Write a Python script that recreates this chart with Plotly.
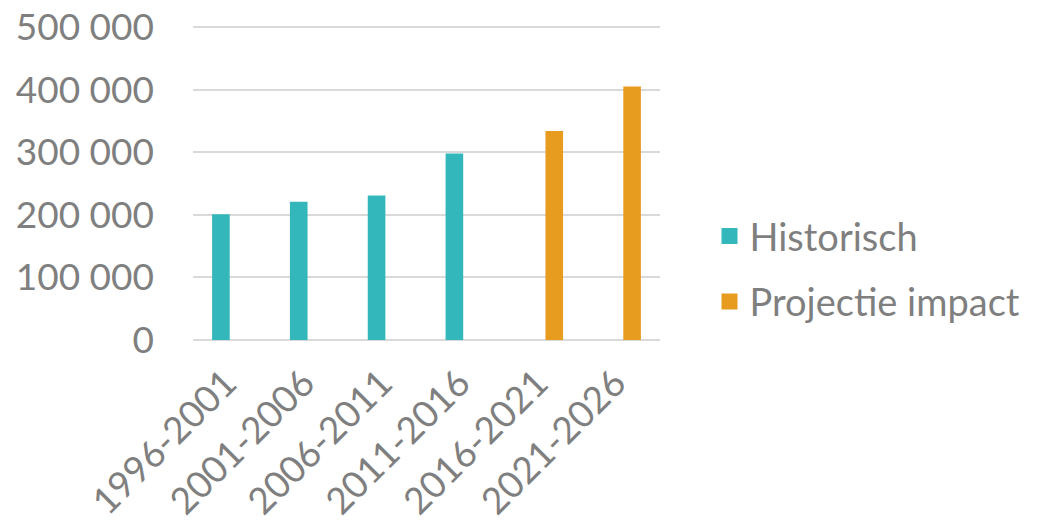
import plotly.graph_objects as go

categories = ["1996-2001", "2001-2006", "2006-2011", "2011-2016", "2016-2021", "2021-2026"]
historisch = [201000, 221000, 231000, 298000, None, None]
projectie = [None, None, None, None, 334000, 405000]
y_ticks = [0, 100000, 200000, 300000, 400000, 500000]

TEAL = "#33B7BA"
ORANGE = "#E79B1F"
GREY = "#7F7F7F"
FONT = "Lato"

fig = go.Figure()
fig.add_trace(go.Bar(x=categories, y=historisch, name="Historisch", showlegend=False,
                     marker=dict(color=TEAL, line=dict(width=0))))
fig.add_trace(go.Bar(x=categories, y=projectie, name="Projectie impact", showlegend=False,
                     marker=dict(color=ORANGE, line=dict(width=0))))
# legend entries with larger square keys
fig.add_trace(go.Scatter(x=[None], y=[None], mode="markers", name="Historisch",
                         marker=dict(symbol="square", size=22, color=TEAL), legendgroup="a"))
fig.add_trace(go.Scatter(x=[None], y=[None], mode="markers", name="Projectie impact",
                         marker=dict(symbol="square", size=22, color=ORANGE), legendgroup="b"))

fig.update_layout(
    width=1048, height=528,
    margin=dict(l=185, r=396, t=16, b=196),
    plot_bgcolor="white", paper_bgcolor="white",
    barmode="group", bargap=0.434, bargroupgap=0.2,
    separators=", ",
    font=dict(family=FONT, color=GREY, size=37),
    legend=dict(x=1.106, y=0.225, xanchor="left", yanchor="middle",
                font=dict(size=38, color=GREY, family=FONT),
                tracegroupgap=13, bgcolor="rgba(0,0,0,0)", itemwidth=30),
    showlegend=True,
)
fig.update_yaxes(range=[0, 505000], tickvals=y_ticks, tickformat=",d", automargin=False,
                 showgrid=True, gridcolor="#D9D9D9", gridwidth=1.5,
                 zeroline=True, zerolinecolor="#D9D9D9", zerolinewidth=1.5,
                 showline=False, ticks="", tickfont=dict(size=37, color=GREY),
                 ticklabelstandoff=38, ticklabeloverflow="allow")
fig.update_xaxes(tickangle=-45, showline=False, ticks="", automargin=False,
                 tickfont=dict(size=37, color=GREY), ticklabelstandoff=13,
                 ticklabelshift=-6, ticklabeloverflow="allow")

fig.write_html("out.html")
